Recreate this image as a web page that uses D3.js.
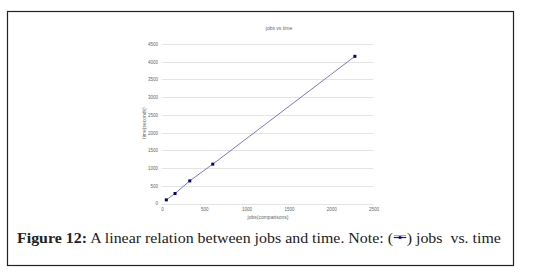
<!DOCTYPE html>
<html><head><meta charset="utf-8">
<script src="https://cdn.jsdelivr.net/npm/d3@7"></script>
<style>html,body{margin:0;padding:0;background:#fff;}svg{display:block;}</style>
</head><body>
<svg id="chart" width="556" height="273"></svg>
<script>
const jobs = [51, 154, 328, 600, 2280];
const times = [102, 282, 638, 1110, 4153];
const xTicks = [0, 500, 1000, 1500, 2000, 2500];
const yTicks = [0, 500, 1000, 1500, 2000, 2500, 3000, 3500, 4000, 4500];
const chartTitle = "jobs vs time";
const xLabel = "jobs(comparisons)";
const yLabel = "time(seconds)";
const captionBold = "Figure 12:";
const captionText = " A linear relation between jobs and time. Note: (";
const captionEnd = ") jobs  vs. time";

const svg = d3.select("#chart");
svg.append("rect").attr("x", 7.5).attr("y", 11.5).attr("width", 506).attr("height", 254)
  .attr("fill", "none").attr("stroke", "#222").attr("stroke-width", 1.2);

const x = d3.scaleLinear().domain([0, 2500]).range([162, 373.5]);
const y = d3.scaleLinear().domain([0, 4500]).range([203.5, 44]);

const g = svg.append("g");
g.selectAll("line.grid").data(yTicks).join("line").attr("class", "grid")
  .attr("x1", x(0)).attr("x2", x(2500))
  .attr("y1", d => Math.round(y(d)) + 0.5).attr("y2", d => Math.round(y(d)) + 0.5)
  .attr("stroke", "#e4e4e4").attr("stroke-width", 1);

const font = "Liberation Sans, Arial, sans-serif";
const yAxis = d3.axisLeft(y).tickValues(yTicks).tickSize(0).tickPadding(4).tickFormat(d3.format("d"));
const ya = svg.append("g").attr("transform", `translate(${x(0)},0)`).call(yAxis);
const xAxis = d3.axisBottom(x).tickValues(xTicks).tickSize(0).tickPadding(4).tickFormat(d3.format("d"));
const xa = svg.append("g").attr("transform", `translate(0,${y(0)})`).call(xAxis);
[ya, xa].forEach(a => {
  a.select(".domain").remove();
  a.selectAll("text").attr("font-size", 4.5).attr("font-family", font).attr("fill", "#666");
});

svg.append("text").attr("x", 279).attr("y", 30).attr("text-anchor", "middle")
  .attr("font-size", 5).attr("font-family", font).attr("fill", "#666").text(chartTitle);
svg.append("text").attr("x", 268).attr("y", 219).attr("text-anchor", "middle")
  .attr("font-size", 5).attr("font-family", font).attr("fill", "#666").text(xLabel);
svg.append("text").attr("transform", "translate(145.5,123) rotate(-90)").attr("text-anchor", "middle")
  .attr("font-size", 5).attr("font-family", font).attr("fill", "#666").text(yLabel);

const pts = jobs.map((j, i) => [j, times[i]]);
svg.append("path").datum(pts)
  .attr("d", d3.line().x(d => x(d[0])).y(d => y(d[1])))
  .attr("fill", "none").attr("stroke", "#6a6ac4").attr("stroke-width", 0.9);
svg.selectAll("rect.pt").data(pts).join("rect").attr("class", "pt")
  .attr("x", d => x(d[0]) - 1.5).attr("y", d => y(d[1]) - 1.5)
  .attr("width", 3).attr("height", 3).attr("fill", "#000080");

// caption
const cfont = "Liberation Serif, 'DejaVu Serif', serif";
const cap = svg.append("g");
const fs = 15.5;
const t1 = cap.append("text").attr("y", 243).attr("font-family", cfont).attr("font-size", fs)
  .attr("font-weight", "bold").attr("fill", "#222").text(captionBold);
const t2 = cap.append("text").attr("y", 243).attr("font-family", cfont).attr("font-size", fs)
  .attr("fill", "#222").attr("xml:space", "preserve").style("white-space", "pre").text(captionText);
const iconW = 13;
const t3 = cap.append("text").attr("y", 243).attr("font-family", cfont).attr("font-size", fs)
  .attr("fill", "#222").style("white-space", "pre").text(captionEnd);
const w1 = t1.node().getComputedTextLength();
const w2 = t2.node().getComputedTextLength();
const w3 = t3.node().getComputedTextLength();
const total = w1 + w2 + iconW + w3;
const targetW = 484;
const sc = targetW / total;
const x0 = 17;
cap.attr("transform", `translate(${x0},243) scale(${sc},1) translate(${-x0},-243)`);
t1.attr("x", x0);
t2.attr("x", x0 + w1);
const ix = x0 + w1 + w2;
t3.attr("x", ix + iconW);
cap.append("line").attr("x1", ix + 0.5).attr("x2", ix + iconW - 0.5).attr("y1", 237.5).attr("y2", 237.5)
  .attr("stroke", "#1a1a80").attr("stroke-width", 1.2);
cap.append("line").attr("x1", ix + 0.5).attr("x2", ix + iconW - 0.5).attr("y1", 235.5).attr("y2", 235.5)
  .attr("stroke", "#6a6ac4").attr("stroke-width", 0.6);
cap.append("rect").attr("x", ix + iconW / 2 - 1.3).attr("y", 236.2).attr("width", 2.6).attr("height", 2.6).attr("fill", "#000080");
</script>
</body></html>
